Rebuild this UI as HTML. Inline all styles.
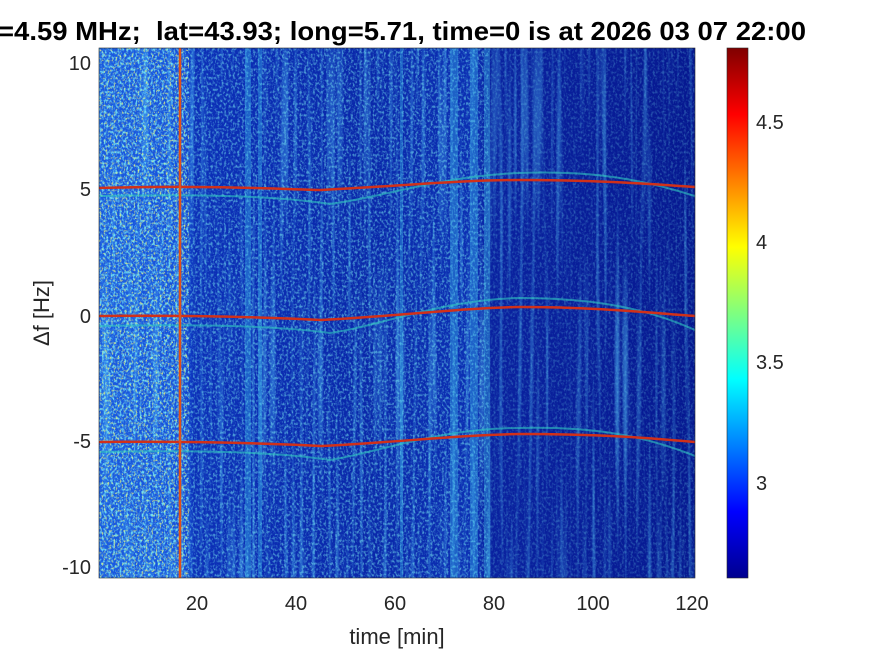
<!DOCTYPE html>
<html><head><meta charset="utf-8"><style>
html,body{margin:0;padding:0;background:#fff;}
svg{display:block;font-family:"Liberation Sans",sans-serif;}
</style></head><body>
<svg width="875" height="656" viewBox="0 0 875 656" xmlns="http://www.w3.org/2000/svg">
<defs>
<clipPath id="pc"><rect x="99" y="48" width="596" height="530"/></clipPath>
<filter id="nz" x="0" y="0" width="100%" height="100%">
<feTurbulence type="fractalNoise" baseFrequency="0.45 0.35" numOctaves="2" seed="3"/>
<feColorMatrix type="matrix" values="0 0 0 0 0.2  0 0 0 0 0.85  0 0 0 0 0.9  3.2 0 0 0 -1.45"/>
</filter>
<filter id="nz2" x="0" y="0" width="100%" height="100%">
<feTurbulence type="fractalNoise" baseFrequency="0.5 0.4" numOctaves="2" seed="9"/>
<feColorMatrix type="matrix" values="0 0 0 0 0.85  0 0 0 0 0.95  0 0 0 0 0.2  4 0 0 0 -2.2"/>
</filter>
<filter id="vs" x="0" y="0" width="100%" height="100%">
<feTurbulence type="fractalNoise" baseFrequency="0.25 0.004" numOctaves="1" seed="5"/>
<feColorMatrix type="matrix" values="0 0 0 0 0.1  0 0 0 0 0.6  0 0 0 0 1  3 0 0 0 -1.5"/>
</filter>
<linearGradient id="bg" x1="0" x2="1" y1="0" y2="0">
<stop offset="0" stop-color="#1a5ae0"/>
<stop offset="0.14" stop-color="#1650dc"/>
<stop offset="0.16" stop-color="#0c30b8"/>
<stop offset="0.45" stop-color="#0a28aa"/>
<stop offset="0.63" stop-color="#0c30b4"/>
<stop offset="0.655" stop-color="#0a22a0"/>
<stop offset="1" stop-color="#061890"/>
</linearGradient>
<linearGradient id="cb" x1="0" x2="0" y1="1" y2="0">
<stop offset="0" stop-color="#00008f"/>
<stop offset="0.125" stop-color="#0000ff"/>
<stop offset="0.375" stop-color="#00ffff"/>
<stop offset="0.625" stop-color="#ffff00"/>
<stop offset="0.875" stop-color="#ff0000"/>
<stop offset="1" stop-color="#800000"/>
</linearGradient>
</defs>
<g clip-path="url(#pc)">
<rect x="99" y="48" width="596" height="530" fill="url(#bg)"/>
<rect x="99" y="48" width="596" height="530" filter="url(#vs)" opacity="0.5"/>
<rect x="99" y="48" width="90" height="530" filter="url(#nz)" opacity="0.9"/>
<rect x="99" y="48" width="90" height="530" filter="url(#nz2)" opacity="0.8"/>
<rect x="189" y="48" width="300" height="530" filter="url(#nz)" opacity="0.55"/>
<rect x="489" y="48" width="206" height="530" filter="url(#nz)" opacity="0.25"/>
<g fill="#40c0f0" opacity="0.35">
<rect x="245" y="48" width="6" height="530"/><rect x="258" y="48" width="4" height="530"/>
<rect x="450" y="48" width="8" height="530"/><rect x="470" y="48" width="8" height="530"/>
<rect x="484" y="48" width="6" height="530"/><rect x="400" y="48" width="3" height="530"/>
</g>
<g fill="none" stroke-linecap="round">
<path d="M99 196 C200 194 280 196 330 204 C380 198 440 176 519 173 C600 170 650 182 695 196" stroke="#30c8c0" stroke-width="2" opacity="0.6"/>
<path d="M99 326 C200 324 280 326 330 333 C380 326 440 300 519 298 C600 298 650 310 695 330" stroke="#30c8c0" stroke-width="2" opacity="0.6"/>
<path d="M99 452 C200 450 280 452 330 460 C380 452 440 428 519 428 C600 426 650 438 695 456" stroke="#30c8c0" stroke-width="2" opacity="0.6"/>
<path d="M99 188 C200 185 280 189 321 190 C400 186 460 180 519 180 C600 180 650 184 695 187" stroke="#d0301a" stroke-width="2.5"/>
<path d="M99 316 C200 315 280 318 321 320 C400 316 460 308 519 307 C600 307 650 313 695 316" stroke="#d0301a" stroke-width="2.5"/>
<path d="M99 442 C200 441 280 444 321 446 C400 442 460 435 519 434 C600 434 650 438 695 442" stroke="#d0301a" stroke-width="2.5"/>
<line x1="180" y1="48" x2="180" y2="578" stroke="#e0501a" stroke-width="2.5"/>
</g>
</g>
<rect x="99" y="48" width="596" height="530" fill="none" stroke="#262626" stroke-width="0.6"/>
<g font-size="20" fill="#262626">
<g text-anchor="end">
<text x="91" y="70">10</text><text x="91" y="196">5</text><text x="91" y="323">0</text>
<text x="91" y="448">-5</text><text x="91" y="574">-10</text>
</g>
<g text-anchor="middle">
<text x="197" y="610">20</text><text x="296" y="610">40</text><text x="395" y="610">60</text>
<text x="494" y="610">80</text><text x="593" y="610">100</text><text x="692" y="610">120</text>
<text x="397" y="644" font-size="22">time [min]</text>
</g>
<text transform="translate(49,313) rotate(-90)" text-anchor="middle" font-size="22">Δf [Hz]</text>
<text x="-2" y="40" font-size="26" font-weight="bold" fill="#000" xml:space="preserve" textLength="808" lengthAdjust="spacingAndGlyphs">=4.59 MHz;  lat=43.93; long=5.71, time=0 is at 2026 03 07 22:00</text>
</g>
<rect x="727" y="48" width="21" height="530" fill="url(#cb)" stroke="#262626" stroke-width="0.6"/>
<g font-size="20" fill="#262626">
<text x="756" y="129">4.5</text><text x="756" y="249">4</text>
<text x="756" y="369">3.5</text><text x="756" y="490">3</text>
</g>
</svg>
</body></html>
